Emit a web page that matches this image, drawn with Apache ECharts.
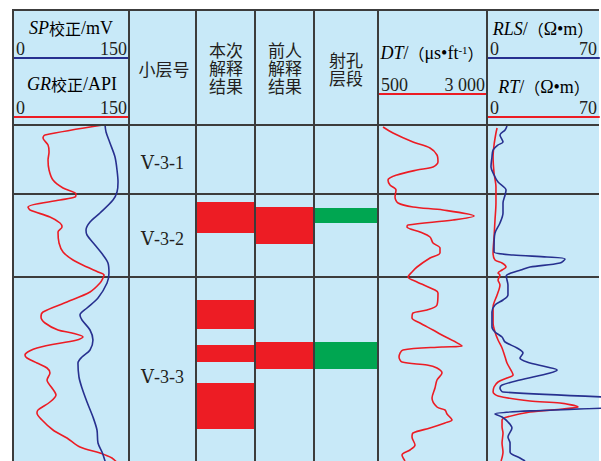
<!DOCTYPE html>
<html>
<head>
<meta charset="utf-8">
<script src="https://cdn.jsdelivr.net/npm/echarts@6/dist/echarts.min.js"></script>
<style>
  html, body { margin: 0; padding: 0; background: #fff; }
  #chart { width: 601px; height: 461px; }
</style>
</head>
<body>
<div id="chart"></div>
<script>
// ---- data (depth measured downward from the top of the logged section) ----
const depthRange = [0, 340];

const layerNames = ['Ⅴ-3-1', 'Ⅴ-3-2', 'Ⅴ-3-3'];
const layerLabelDepths = [38, 114, 252];
const layerBoundaries = [69, 152];

// interpretation / perforation intervals: [top, bottom]
const currentResult = [[77, 108], [175, 204], [220, 237], [258, 304]];
const previousResult = [[82, 119], [217, 244]];
const perforations = [[83, 98], [217, 244]];

// scale ticks for each curve
const spTicks = [0, 150];
const grTicks = [0, 150];
const dtTicks = [500, 3000];
const rlsTicks = [0, 70];
const rtTicks = [0, 70];

// curve titles (rich-text markup: i = italic mnemonic, c = CJK, n = plain, s = superscript)
const spTitle = '{i|SP}{c|校正}{n|/mV}';
const grTitle = '{i|GR}{c|校正}{n|/API}';
const dtTitle = '{i|DT}{n|/}{c|（}{n|μs•ft}{s|-1}{c|）}';
const rlsTitle = '{i|RLS}{n|/}{c|（}{n|Ω•m}{c|）}';
const rtTitle = '{i|RT}{n|/}{c|（}{n|Ω•m}{c|）}';

// curves: [value, depth]
const spCurve = [[119,0],[120.3,7],[125.4,18],[131.9,32],[134.5,45],[135.8,57],[134.5,67],[129.3,75],[112.5,88],[99.6,97],[94.4,105],[95.7,110],[106,120],[116.4,130],[122.8,138],[124.1,148],[121.6,158],[109.9,173],[95.7,183],[86.6,190],[89.2,195],[99.6,205],[103.4,215],[99.6,225],[89.2,232],[84,238],[85.3,252],[89.2,263],[95.7,277],[103.4,292],[108.6,305],[109.9,318],[115.1,327],[119,336],[120,340]];

const grCurve = [[116.4,0],[41.4,10],[38.8,13],[45.3,20],[46.6,27],[45.3,35],[46.6,45],[51.7,55],[64.7,63],[81.5,69],[80.2,72],[60.8,75],[19.4,82],[22,85],[47.8,92],[60.8,98],[63.4,102],[58.2,107],[59.5,118],[64.7,127],[77.6,135],[95.7,142],[109.9,147],[117.7,150],[116.4,153],[112.5,158],[99.6,167],[69.8,177],[38.8,187],[36.2,192],[41.4,198],[58.2,205],[76.3,208],[90.5,212],[82.8,215],[31,223],[15.5,230],[18.1,233],[31,238],[44,243],[47.8,248],[44,255],[50.4,263],[55.6,270],[47.8,277],[32.3,285],[31,288],[37.5,295],[51.7,305],[69.8,313],[86.6,322],[112.5,328],[128,333],[135,338]];

const dtCurve = [[615,2],[844,8],[1303,17],[1693,23],[1853,30],[1876,37],[1762,42],[1395,45],[936,50],[729,55],[775,60],[913,65],[890,72],[959,78],[1303,82],[1991,85],[2702,91],[2221,95],[1188,100],[1165,102],[1463,107],[1693,112],[1762,118],[1922,123],[1922,128],[1693,133],[1395,142],[1280,147],[1188,152],[1395,157],[1807,165],[1876,168],[1853,180],[1624,185],[1303,188],[1280,193],[1463,198],[1762,205],[1922,209],[2427,221],[1968,222],[1073,225],[982,232],[1051,237],[1624,240],[1853,243],[1968,248],[1853,255],[1807,263],[1739,273],[1853,282],[2037,285],[2083,289],[2197,295],[2037,298],[1693,303],[1303,308],[1280,312],[1349,320],[1234,325],[1051,330],[1119,336]];

const rlsCurve = [[12.5,1],[11.3,5],[8.1,10],[10,17],[6.9,20],[3.8,25],[3.1,32],[2.5,42],[4.4,50],[6.9,57],[11.9,65],[11.3,70],[10,78],[10,88],[8.1,98],[5,108],[4.4,122],[4.4,127],[16.3,130],[37.5,132],[48.8,134],[45.6,138],[26.9,142],[21,145],[15,148],[12,151],[12.5,155],[13.1,160],[13.1,170],[10,175],[5,180],[3.1,187],[3.1,202],[5,207],[9.4,212],[11.3,217],[18.8,223],[22.5,228],[20.6,233],[25,237],[37.5,242],[43.8,245],[39.4,248],[20.6,255],[9.4,260],[8.1,263],[10,267],[136,278],[5,289],[9.4,292],[13.1,297],[15.6,303],[13.1,312],[14.4,318],[14.4,327],[20.6,333],[23.8,336]];

const rtCurve = [[6.3,3],[5.6,8],[4.4,20],[3.8,32],[4.4,48],[5.6,62],[5.6,78],[5,95],[4.4,112],[3.8,128],[5,135],[9.4,138],[11.9,142],[9.4,145],[6.9,148],[8.1,150],[6.9,155],[8.1,160],[6.3,170],[3.8,182],[3.8,198],[5,207],[6.9,215],[9.4,223],[11.3,232],[12.5,238],[15.6,247],[16.3,250],[12.5,253],[6.9,257],[4.4,262],[3.8,267],[6.9,271],[26.9,276],[45.6,278],[56.9,282],[47.5,284],[26.9,287],[12.5,292],[9.4,295],[9.4,302],[10,308],[9.4,318],[10,327],[8.8,336]];

// ---- styling ----
const SERIF = '"Liberation Serif","Times New Roman",serif';
const CJK = '"Noto Sans CJK SC",sans-serif';
const INK = '#231f20';
const BG = '#c8e9f8';
const RULE = '#3c3c3c';
const BLUE = '#27308f';
const RED = '#ec1c24';
const BAR_RED = '#ed1c24';
const GREEN = '#00a651';

// track columns: [left, width]
const tracks = {
  spgr: [13, 116],
  layer: [129, 67],
  current: [196, 59],
  previous: [255, 59],
  perf: [314, 64],
  dt: [378, 109],
  res: [487, 112],
  all: [13, 586]
};
const trackOrder = ['spgr', 'layer', 'current', 'previous', 'perf', 'dt', 'res', 'all'];
const BODY_TOP = 125;

const grids = trackOrder.map(k => ({
  left: tracks[k][0], width: tracks[k][1], top: BODY_TOP, height: depthRange[1] - depthRange[0],
  containLabel: false, outerBoundsMode: 'none'
}));

const yAxes = trackOrder.map((k, i) => ({
  type: 'value', gridIndex: i, min: depthRange[0], max: depthRange[1], inverse: true, show: false
}));

const titleRich = {
  i: { fontFamily: SERIF, fontStyle: 'italic', fontSize: 18, color: INK },
  n: { fontFamily: SERIF, fontSize: 18, color: INK },
  c: { fontFamily: CJK, fontSize: 16, color: INK },
  s: { fontFamily: SERIF, fontSize: 11, color: INK, verticalAlign: 'top' }
};

function fmtTick(v) {
  if (v >= 1000) return Math.floor(v / 1000) + ' ' + String(v % 1000).padStart(3, '0');
  return String(v);
}

// a scale bar above a track: coloured line with its end values
function scaleAxis(gridIndex, ticks, color, offset) {
  return {
    type: 'value', gridIndex, position: 'top', offset,
    min: ticks[0], max: ticks[ticks.length - 1],
    axisLine: { show: true, onZero: false, lineStyle: { color, width: 2 } },
    axisTick: { show: false },
    splitLine: { show: false },
    axisLabel: {
      show: true, customValues: ticks, formatter: fmtTick, margin: 0, padding: [0, 2, 0, 3],
      fontSize: 18, fontFamily: SERIF, color: INK,
      alignMinLabel: 'left', alignMaxLabel: 'right'
    }
  };
}

function hiddenAxis(gridIndex) {
  return { type: 'value', gridIndex, min: 0, max: 1, show: false };
}

const xAxes = [
  scaleAxis(0, spTicks, BLUE, BODY_TOP - 58),    // 0
  scaleAxis(0, grTicks, RED, BODY_TOP - 117),    // 1
  hiddenAxis(1),                                  // 2
  hiddenAxis(2),                                  // 3
  hiddenAxis(3),                                  // 4
  hiddenAxis(4),                                  // 5
  scaleAxis(5, dtTicks, RED, BODY_TOP - 94),     // 6
  scaleAxis(6, rlsTicks, BLUE, BODY_TOP - 58),   // 7
  scaleAxis(6, rtTicks, RED, BODY_TOP - 117),    // 8
  hiddenAxis(7)                                   // 9
];

function curve(data, xi, yi, color) {
  return {
    type: 'line', data, xAxisIndex: xi, yAxisIndex: yi,
    showSymbol: false, symbol: 'none', smooth: 0.3, clip: true,
    lineStyle: { color, width: 1.6 }, itemStyle: { color },
    silent: true, animation: false, z: 5
  };
}

function intervalBars(data, xi, yi, color) {
  return {
    type: 'custom', data, xAxisIndex: xi, yAxisIndex: yi,
    encode: { y: [0, 1] }, silent: true, animation: false, z: 3,
    renderItem(params, api) {
      const a = api.coord([0, api.value(0)]);
      const b = api.coord([1, api.value(1)]);
      return { type: 'rect', shape: { x: a[0], y: a[1], width: b[0] - a[0], height: b[1] - a[1] }, style: { fill: color } };
    }
  };
}

const series = [
  curve(grCurve, 1, 0, RED),
  curve(spCurve, 0, 0, BLUE),
  {
    type: 'custom', data: layerLabelDepths.map(d => [0.5, d]), xAxisIndex: 2, yAxisIndex: 1,
    silent: true, animation: false, z: 4,
    renderItem(params, api) {
      const p = api.coord([api.value(0), api.value(1)]);
      return {
        type: 'text', x: p[0], y: p[1],
        style: {
          text: layerNames[params.dataIndex],
          font: '18px "Liberation Serif", "DejaVu Serif", serif',
          fontSize: 18, fontFamily: '"Liberation Serif", "DejaVu Serif", serif',
          fill: INK, align: 'center', verticalAlign: 'middle'
        }
      };
    }
  },
  intervalBars(currentResult, 3, 2, BAR_RED),
  intervalBars(previousResult, 4, 3, BAR_RED),
  intervalBars(perforations, 5, 4, GREEN),
  curve(dtCurve, 6, 5, RED),
  curve(rtCurve, 8, 6, RED),
  curve(rlsCurve, 7, 6, BLUE),
  {
    type: 'custom', data: layerBoundaries.map(d => [0, d]), xAxisIndex: 9, yAxisIndex: 7,
    silent: true, animation: false, z: 4,
    renderItem(params, api) {
      const a = api.coord([0, api.value(1)]);
      const b = api.coord([1, api.value(1)]);
      return { type: 'line', shape: { x1: a[0] - 1, y1: a[1], x2: b[0], y2: b[1] }, style: { stroke: RULE, lineWidth: 2 } };
    }
  }
];

// ---- table frame, column headings and curve titles ----
const TOP = 10, BOTTOM = 461, RIGHT = 599;
const colEdges = [13, 129, 196, 255, 314, 378, 487];
const frame = [];
frame.push({ type: 'rect', z: -10, silent: true, shape: { x: 13, y: TOP, width: RIGHT - 13, height: BOTTOM - TOP }, style: { fill: BG } });
colEdges.forEach(x => frame.push({ type: 'line', z: 20, silent: true, shape: { x1: x, y1: TOP - 1, x2: x, y2: BOTTOM }, style: { stroke: RULE, lineWidth: 2 } }));
[TOP, BODY_TOP].forEach(y => frame.push({ type: 'line', z: 20, silent: true, shape: { x1: 12, y1: y, x2: RIGHT, y2: y }, style: { stroke: RULE, lineWidth: 2 } }));

const headings = [
  { text: '小层号', x: 164, y: 68 },
  { text: '本次\n解释\n结果', x: 226, y: 67 },
  { text: '前人\n解释\n结果', x: 285, y: 67 },
  { text: '射孔\n层段', x: 346, y: 68 }
];
headings.forEach(h => frame.push({
  type: 'text', z: 20, silent: true, x: h.x, y: h.y,
  style: { text: h.text, fontFamily: CJK, fontSize: 17, lineHeight: 18, fill: INK, align: 'center', verticalAlign: 'middle' }
}));

const titles = [
  { text: spTitle, x: 71, y: 28 },
  { text: grTitle, x: 72, y: 84 },
  { text: dtTitle, x: 432, y: 53 },
  { text: rlsTitle, x: 543, y: 29 },
  { text: rtTitle, x: 544, y: 87 }
];
titles.forEach(t => frame.push({
  type: 'text', z: 20, silent: true, x: t.x, y: t.y,
  style: { text: t.text, rich: titleRich, align: 'center', verticalAlign: 'middle' }
}));

const chart = echarts.init(document.getElementById('chart'), null, { renderer: 'svg', width: 601, height: 461 });
chart.setOption({
  backgroundColor: '#ffffff',
  animation: false,
  grid: grids,
  xAxis: xAxes,
  yAxis: yAxes,
  series,
  graphic: { elements: frame }
});
</script>
</body>
</html>
